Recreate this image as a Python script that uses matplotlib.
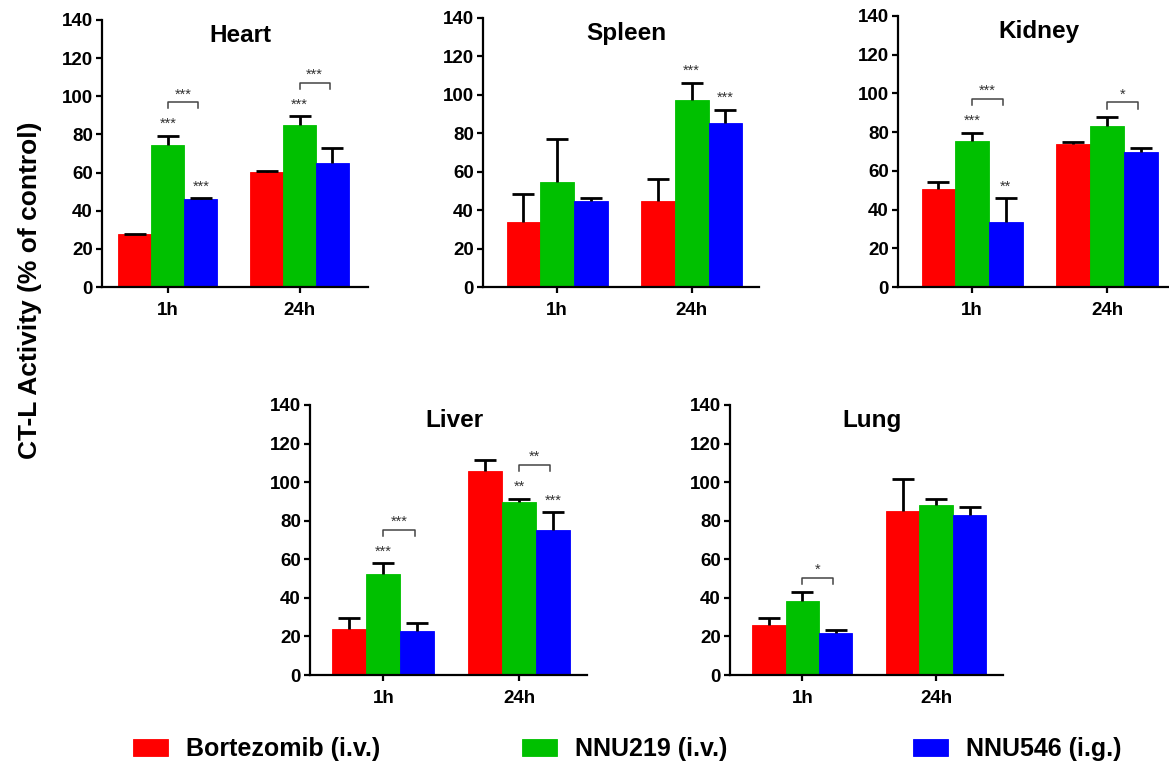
import matplotlib.pyplot as plt
import matplotlib.transforms as mtransforms
import numpy as np

plt.rcParams['font.family'] = ['Liberation Sans', 'DejaVu Sans']

# data (CT-L activity, % of control)
times = ['1h', '24h']
drugs = ['Bortezomib (i.v.)', 'NNU219 (i.v.)', 'NNU546 (i.g.)']
colors = ['#ff0000', '#00c000', '#0000ff']
organs = ['Heart', 'Spleen', 'Kidney', 'Liver', 'Lung']

# rows: drug, columns: time
heart_mean = [[27.6, 60.4], [74.4, 85.2], [46.1, 65.2]]
heart_err = [[0.4, 0.4], [5.0, 4.4], [0.4, 7.6]]
spleen_mean = [[34.0, 44.8], [54.4, 97.4], [44.9, 85.6]]
spleen_err = [[14.6, 11.4], [22.8, 8.8], [1.5, 6.6]]
kidney_mean = [[50.4, 73.8], [75.5, 83.2], [33.8, 70.0]]
kidney_err = [[3.8, 1.0], [4.3, 4.7], [12.0, 1.7]]
liver_mean = [[24.0, 105.6], [52.6, 89.6], [23.0, 75.2]]
liver_err = [[5.4, 5.8], [5.3, 1.8], [4.1, 9.2]]
lung_mean = [[25.8, 84.9], [38.4, 88.1], [21.6, 83.0]]
lung_err = [[3.9, 16.7], [4.6, 3.0], [1.7, 4.3]]

means = [heart_mean, spleen_mean, kidney_mean, liver_mean, lung_mean]
errs = [heart_err, spleen_err, kidney_err, liver_err, lung_err]

# stars over single bars: (organ, drug, time, label)
bar_stars = [
    (0, 1, 0, '***'), (0, 2, 0, '***'), (0, 1, 1, '***'),
    (1, 1, 1, '***'), (1, 2, 1, '***'),
    (2, 1, 0, '***'), (2, 2, 0, '**'),
    (3, 1, 0, '***'), (3, 1, 1, '**'), (3, 2, 1, '***'),
]
# brackets NNU219 vs NNU546: (organ, time, label)
brackets = [
    (0, 0, '***'), (0, 1, '***'),
    (2, 0, '***'), (2, 1, '*'),
    (3, 0, '***'), (3, 1, '**'),
    (4, 0, '*'),
]

W, H = 1169, 764
fig = plt.figure(figsize=(W / 100, H / 100), dpi=100)

# axes boxes in pixels: left, right, top (y=140), bottom (y=0), xlim
boxes = [
    (102, 368, 20, 287, (-0.5, 1.52)),
    (483, 759, 18, 287, (-0.55, 1.5)),
    (898, 1169, 16, 287, (-0.55, 1.46)),
    (310, 587, 405, 675, (-0.54, 1.5)),
    (730, 1003, 405, 675, (-0.54, 1.5)),
]

x = np.arange(len(times))
bw = 0.25
axes = []
handles = []
for i, organ in enumerate(organs):
    l, r, t, b, xl = boxes[i]
    ax = fig.add_axes([l / W, 1 - b / H, (r - l) / W, (b - t) / H])
    axes.append(ax)
    m = np.array(means[i])
    e = np.array(errs[i])
    for d in range(len(drugs)):
        xs = x + (d - 1) * bw
        bars = ax.bar(xs, m[d], bw, color=colors[d], edgecolor=colors[d],
                      linewidth=0.6, zorder=2)
        if i == 0:
            handles.append(bars)
        eb = ax.errorbar(xs, m[d], yerr=[np.zeros(len(times)), e[d]], fmt='none',
                         ecolor='black', elinewidth=2, capsize=8, capthick=2,
                         zorder=3)
        eb[1][0].set_visible(False)  # no cap at the bar top
    ax.set_xlim(*xl)
    ax.set_ylim(0, 140)
    ax.set_yticks(np.arange(0, 141, 20))
    ax.set_xticks(x)
    ax.set_xticklabels(times)
    for s in ['top', 'right']:
        ax.spines[s].set_visible(False)
    for s in ['left', 'bottom']:
        ax.spines[s].set_linewidth(1.6)
    ax.tick_params(axis='both', direction='out', length=4.5, width=1.6,
                   labelsize=13.5)
    ax.tick_params(axis='y', pad=2)
    ax.tick_params(axis='x', pad=6)
    for lab in ax.get_xticklabels() + ax.get_yticklabels():
        lab.set_fontweight('bold')
    trans = mtransforms.blended_transform_factory(ax.transAxes, ax.transData)
    ax.text(0.52, 132, organ, transform=trans, ha='center', va='center',
            fontsize=17.5, fontweight='bold')

star_kw = dict(ha='center', va='baseline', fontsize=10.5, color='#333333')

for o, d, tm, lab in bar_stars:
    top = means[o][d][tm] + errs[o][d][tm]
    axes[o].text(x[tm] + (d - 1) * bw, top + 8 - 4, lab, **star_kw)

starred = {(o, d, tm) for o, d, tm, _ in bar_stars}
for o, tm, lab in brackets:
    top = means[o][1][tm] + errs[o][1][tm]
    yb = top + (17.5 if (o, 1, tm) in starred else 7.5)
    x0 = x[tm] + 0.0
    x1 = x[tm] + bw - 0.02
    axes[o].plot([x0, x0, x1, x1], [yb - 3.3, yb, yb, yb - 3.3],
                 color='#444444', lw=1.1, zorder=4)
    axes[o].text((x0 + x1) / 2, yb + 6 - 4, lab, **star_kw)

fig.text(30 / W, 1 - 290 / H, 'CT-L Activity (% of control)', rotation=90,
         ha='center', va='center', fontsize=19, fontweight='bold')

leg_x = [133, 522, 913]
for d in range(len(drugs)):
    fig.legend([handles[d]], [drugs[d]], loc='center left',
               bbox_to_anchor=(leg_x[d] / W, 1 - 749 / H), frameon=False,
               borderpad=0, borderaxespad=0, handlelength=1.4,
               handleheight=0.68, handletextpad=0.72,
               prop={'size': 18, 'weight': 'bold'})

fig.savefig('out.png', dpi=100)
